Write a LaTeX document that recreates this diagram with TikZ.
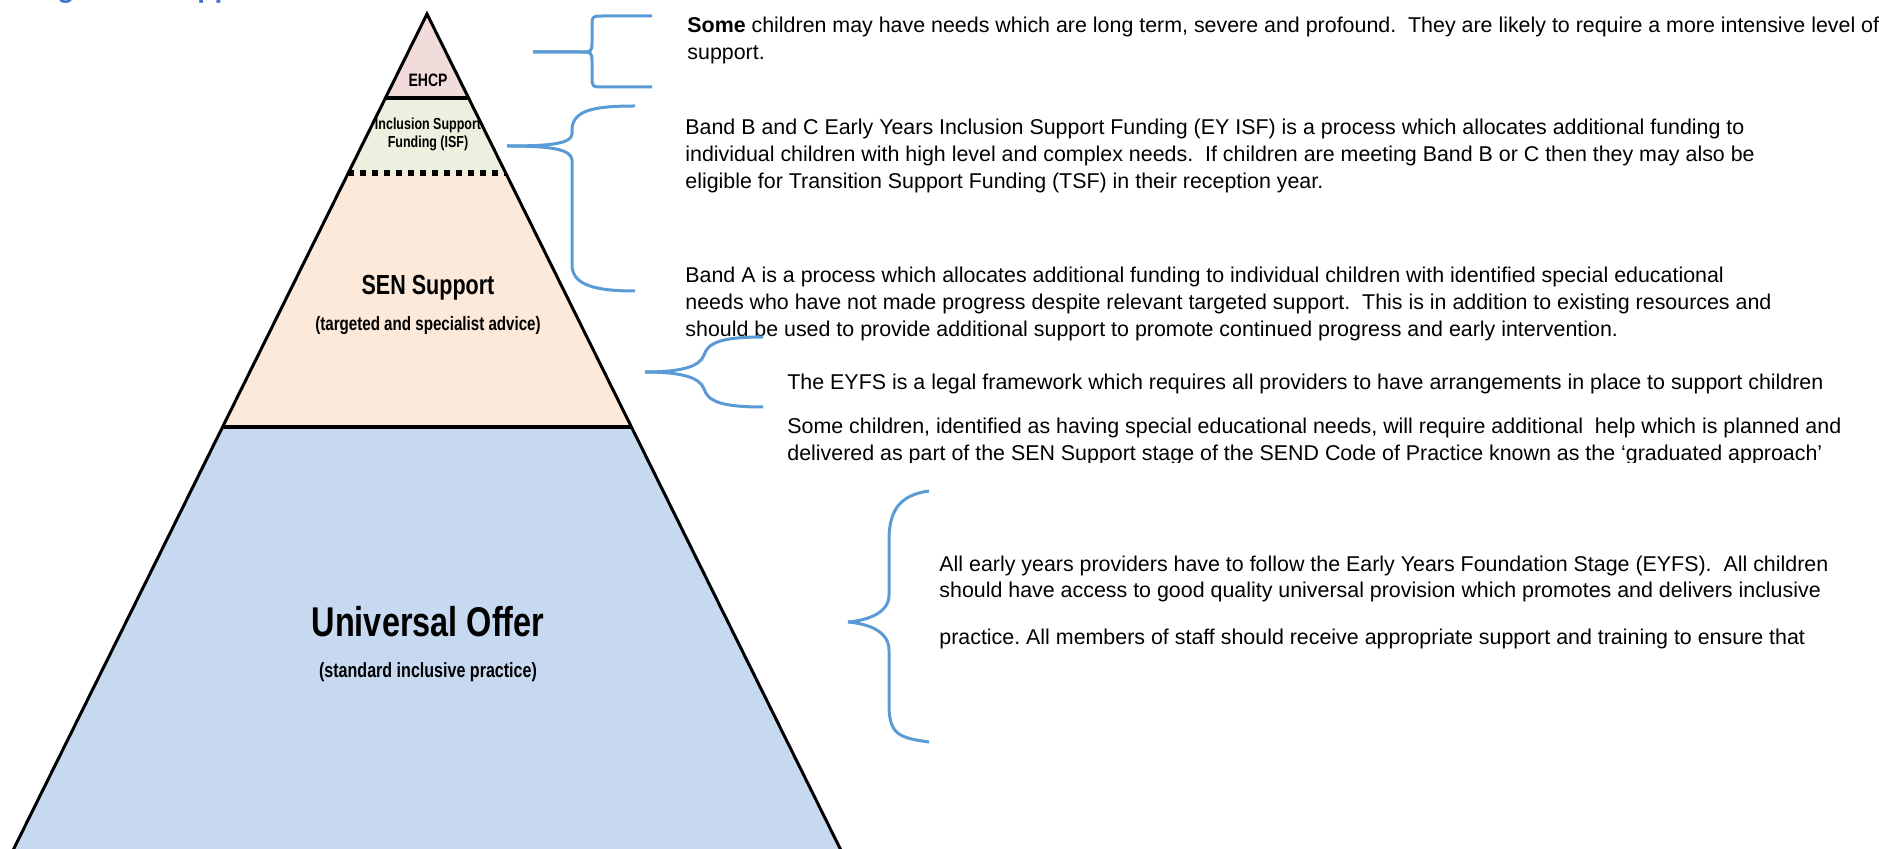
\documentclass[tikz,border=0pt]{standalone}
\usepackage{fontspec}
\setmainfont{Liberation Sans}
\newfontfamily\narrowfont[FakeStretch=0.78]{Liberation Sans}
\usepackage{xcolor}
\definecolor{ehcpC}{HTML}{F2DCDB}
\definecolor{isfC}{HTML}{EBF1DE}
\definecolor{senC}{HTML}{FDE9D9}
\definecolor{univC}{HTML}{C6D9F1}
\definecolor{brC}{HTML}{5B9BD5}
\definecolor{titleC}{HTML}{4472C4}
\usetikzlibrary{positioning}
\frenchspacing

\begin{document}
\begin{tikzpicture}[x=0.5pt,y=-0.5pt,line join=miter,
    brc/.style={draw=brC,line width=1.5pt},
    txt/.style={anchor=base west,inner sep=0pt,align=left,font=\fontsize{10.7}{13.5}\selectfont},
    lbl/.style={inner sep=0pt,align=center}]
  \useasboundingbox (0,0) rectangle (1879,849);
  % bands of the pyramid, #1 top y, #2 bottom y
  \def\band#1#2#3{
    \fill[#3] ({427-0.495*(#1-14)},#1) -- ({427+0.495*(#1-14)},#1)
      -- ({427+0.495*(#2-14)},#2) -- ({427-0.495*(#2-14)},#2) -- cycle;
  }
  \band{14}{98}{ehcpC}
  \band{98}{173}{isfC}
  \band{173}{427}{senC}
  \band{427}{880}{univC}
  \draw[line width=2.3pt] ({427-0.495*84},98) -- ({427+0.495*84},98);
  \draw[line width=2.3pt] ({427-0.495*413},427) -- ({427+0.495*413},427);
  \draw[line width=3.2pt,dash pattern=on 3pt off 3pt] ({427-0.495*159},173) -- ({427+0.495*159},173);
  \draw[line width=1.5pt] ({427-0.495*866},880) -- (427,14) -- ({427+0.495*866},880);

  \node[lbl,font=\narrowfont\bfseries\fontsize{9}{10}\selectfont] (ehcp) at (428,80) {EHCP};
  \node[lbl,font=\narrowfont\bfseries\fontsize{8}{9}\selectfont] (isf) at (428,134) {Inclusion Support\\Funding (ISF)};
  \node[lbl,font=\narrowfont\bfseries\fontsize{13.8}{15}\selectfont] (sen) at (428,288) {SEN Support};
  \node[lbl,font=\narrowfont\bfseries\fontsize{9.7}{11}\selectfont] (senSub) at (428,326) {(targeted and specialist advice)};
  \node[lbl,font=\narrowfont\bfseries\fontsize{20.8}{22}\selectfont] (univ) at (428,622) {Universal Offer};
  \node[lbl,font=\narrowfont\bfseries\fontsize{10.3}{12}\selectfont] (univSub) at (428,672) {(standard inclusive practice)};

  % cut off title
  \node[anchor=base west,inner sep=0pt,text=titleC,font=\bfseries\fontsize{14}{14}\selectfont] (ttlG) at (57,-2) {g};
  \node[anchor=base west,inner sep=0pt,text=titleC,font=\bfseries\fontsize{14}{14}\selectfont] (ttlP) at (197,-2) {pp};

  % base = last line
  \node[txt] (some) at (687,60) {\textbf{Some} children may have needs which are long term, severe and profound.\ \ They are likely to require a more intensive level of\\support.};
  \node[txt] (bandBC) at (685,189) {Band B and C Early Years Inclusion Support Funding (EY ISF) is a process which allocates additional funding to\\individual children with high level and complex needs.\ \ If children are meeting Band B or C then they may also be\\eligible for Transition Support Funding (TSF) in their reception year.};
  \node[txt] (bandA) at (685,337) {Band A is a process which allocates additional funding to individual children with identified special educational\\needs who have not made progress despite relevant targeted support.\ \ This is in addition to existing resources and\\should be used to provide additional support to promote continued progress and early intervention.};
  \node[txt] (eyfs) at (787,390) {The EYFS is a legal framework which requires all providers to have arrangements in place to support children};
  \begin{scope}
    \clip (780,400) rectangle (1879,463);
    \node[txt] (senNeeds) at (787,461) {Some children, identified as having special educational needs, will require additional\ \ help which is planned and\\delivered as part of the SEN Support stage of the SEND Code of Practice known as the ‘graduated approach’};
  \end{scope}
  \node[txt,font=\fontsize{10.7}{12.5}\selectfont] (allEarly) at (939,644) {All early years providers have to follow the Early Years Foundation Stage (EYFS).\ \ All children\\should have access to good quality universal provision which promotes and delivers inclusive\\[11pt]practice. All members of staff should receive appropriate support and training to ensure that};

  % braces
  \draw[brc] (652,16) -- (604,16) .. controls (592,16) .. (592,28) -- (592,42) .. controls (592,52) .. (578,52) -- (533,52);
  \draw[brc] (533,52) -- (578,52) .. controls (592,52) .. (592,62) -- (592,76) .. controls (592,87) .. (604,87) -- (652,87);
  \draw[brc] (635,106) .. controls (595,106) and (574,110) .. (572,128) -- (572,134) .. controls (571,143) and (555,146) .. (507,146);
  \draw[brc] (507,146) .. controls (555,146) and (571,150) .. (572,160) -- (572,266) .. controls (573,285) and (595,291) .. (635,291);
  \draw[brc] (763,337) .. controls (720,337) and (708,343) .. (704,355) .. controls (700,367) and (680,372) .. (645,372);
  \draw[brc] (645,372) .. controls (680,372) and (700,377) .. (704,389) .. controls (708,401) and (720,407) .. (763,407);
  \draw[brc] (929,491) .. controls (900,495) and (889,510) .. (889,540) -- (889,595) .. controls (889,612) and (870,620) .. (848,622);
  \draw[brc] (848,622) .. controls (870,624) and (889,632) .. (889,650) -- (889,705) .. controls (889,735) and (900,738) .. (929,742);
\end{tikzpicture}
\end{document}
